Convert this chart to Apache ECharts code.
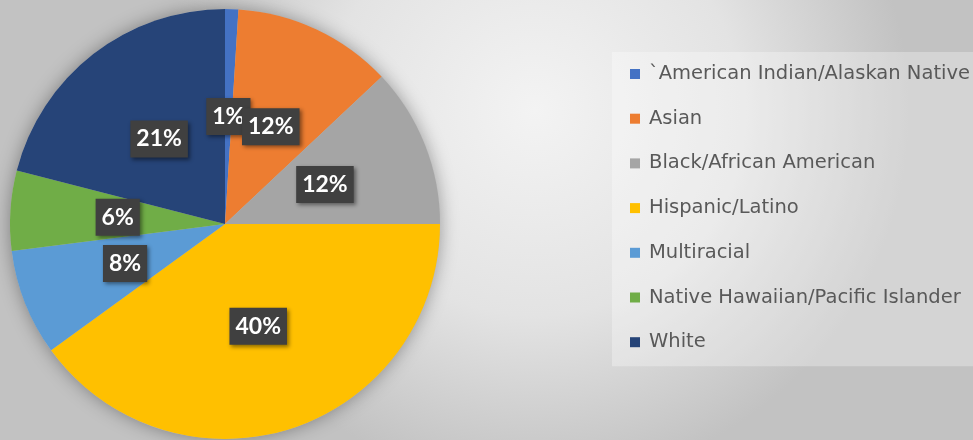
<!DOCTYPE html>
<html>
<head>
<meta charset="utf-8">
<script src="https://cdn.jsdelivr.net/npm/echarts@6/dist/echarts.min.js"></script>
<style>
  html, body { margin: 0; padding: 0; }
  #chart { width: 973px; height: 440px; }
</style>
</head>
<body>
<div id="chart"></div>
<script>
const groups = [
  '`American Indian/Alaskan Native',
  'Asian',
  'Black/African American',
  'Hispanic/Latino',
  'Multiracial',
  'Native Hawaiian/Pacific Islander',
  'White'
]
const shares = [1, 12, 12, 40, 8, 6, 21]
const colors = ['#4472C4', '#ED7D31', '#A5A5A5', '#FFC000', '#5B9BD5', '#70AD47', '#264478']

const total = shares.reduce((a, b) => a + b, 0)
const cx = 225, cy = 224, R = 215

// mid angle of each slice, so labels sit half way out like excel does
let acc = 0
const midAngles = shares.map(v => {
  const a = (acc + v / 2) / total * Math.PI * 2
  acc += v
  return a
})

const chart = echarts.init(document.getElementById('chart'))
chart.setOption({
  backgroundColor: {
    type: 'radial', x: 0.55, y: 0.25, r: 0.85,
    colorStops: [
      { offset: 0, color: '#f3f3f3' },
      { offset: 0.55, color: '#e3e3e3' },
      { offset: 1, color: '#c2c2c2' }
    ]
  },
  color: colors,
  legend: {
    orient: 'vertical',
    left: 612,
    top: 52,
    padding: [12, 10, 14, 18],
    backgroundColor: 'rgba(255,255,255,0.3)',
    icon: 'rect',
    itemWidth: 10,
    itemHeight: 10,
    itemGap: 24.7,
    data: groups,
    textStyle: {
      fontFamily: 'DejaVu Sans',
      fontSize: 19.5,
      lineHeight: 20,
      padding: [0, 0, 0, 4],
      color: '#595959'
    }
  },
  series: [
    {
      // soft halo under the pie
      type: 'pie',
      silent: true,
      center: [cx, cy],
      radius: R,
      z: 1,
      label: { show: false },
      itemStyle: {
        color: '#bbbbbb',
        shadowBlur: 18,
        shadowColor: 'rgba(0,0,0,0.35)'
      },
      data: [{ value: total, name: '' }],
      legendHoverLink: false
    },
    {
      type: 'pie',
      center: [cx, cy],
      radius: R,
      startAngle: 90,
      z: 2,
      avoidLabelOverlap: false,
      data: groups.map((g, i) => ({ name: g, value: shares[i] })),
      label: {
        position: 'outside',
        formatter: p => Math.round(p.percent) + '%',
        fontFamily: 'Lato',
        fontWeight: 'bold',
        fontSize: 23,
        color: '#ffffff',
        backgroundColor: '#404040',
        padding: [8, 6, 6, 6],
        shadowBlur: 4,
        shadowOffsetX: 2,
        shadowOffsetY: 2,
        shadowColor: 'rgba(0,0,0,0.45)'
      },
      labelLine: { show: false },
      labelLayout: p => {
        const a = midAngles[p.dataIndex]
        return {
          x: cx + R / 2 * Math.sin(a),
          y: cy - R / 2 * Math.cos(a),
          align: 'center',
          verticalAlign: 'middle'
        }
      },
      emphasis: { disabled: true }
    }
  ]
})
</script>
</body>
</html>
